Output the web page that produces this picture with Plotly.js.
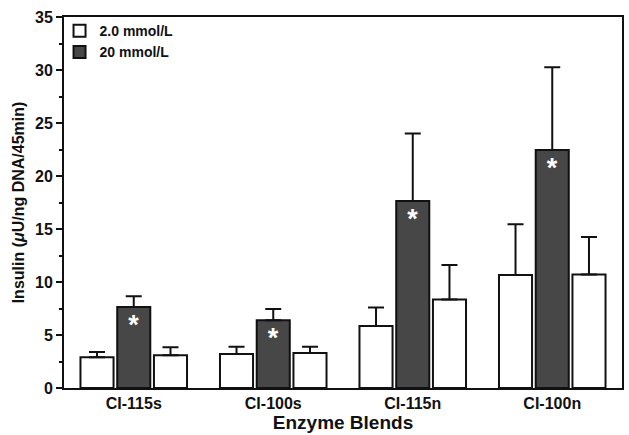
<!DOCTYPE html>
<html><head><meta charset="utf-8">
<script src="https://cdn.plot.ly/plotly-3.0.1.min.js"></script>
<style>html,body{margin:0;padding:0;background:#fff}#chart{position:relative;width:629px;height:435px}#frame{position:absolute;box-sizing:border-box;border:2px solid #111;pointer-events:none}</style>
</head><body><div id="chart"></div>
<script>
const categories = ["CI-115s", "CI-100s", "CI-115n", "CI-100n"];
const lowA = [2.9, 3.2, 5.85, 10.65];
const lowAErr = [0.5, 0.7, 1.75, 4.8];
const high = [7.65, 6.4, 17.65, 22.45];
const highErr = [1.0, 1.05, 6.35, 7.8];
const lowB = [3.1, 3.3, 8.35, 10.7];
const lowBErr = [0.75, 0.6, 3.25, 3.55];
const seriesNames = ["2.0 mmol/L", "20 mmol/L"];
const marks = ["*", "*", "*", "*"];
const majorTicks = [0, 5, 10, 15, 20, 25, 30, 35];

const FONT = "Liberation Sans, Arial, Helvetica, sans-serif";
const zeros = categories.map(() => 0);
function errY(arr){ return {type:'data', symmetric:false, array:arr, arrayminus:zeros, color:'#111', thickness:2, width:8}; }

const traces = [
  {type:'bar', x:categories, y:lowA, name:seriesNames[0], marker:{color:'#ffffff', line:{color:'#111', width:2}}, error_y:errY(lowAErr), legendrank:1},
  {type:'bar', x:categories, y:high, name:seriesNames[1], marker:{color:'#474747', line:{color:'#111', width:2}}, error_y:errY(highErr),
   text:marks, textposition:'inside', insidetextanchor:'end', textfont:{color:'#ffffff', size:27, family:FONT, weight:'bold'}, constraintext:'none', legendrank:2},
  {type:'bar', x:categories, y:lowB, name:seriesNames[0], showlegend:false, marker:{color:'#ffffff', line:{color:'#111', width:2}}, error_y:errY(lowBErr)}
];

const layout = {
  width:629, height:435,
  margin:{l:64, r:7, t:17, b:47},
  paper_bgcolor:'#fff', plot_bgcolor:'#fff',
  font:{family:FONT, color:'#111'},
  barmode:'group', bargap:0.21, bargroupgap:0.1,
  showlegend:true,
  legend:{x:-0.008, y:1.005, xanchor:'left', yanchor:'top', bgcolor:'rgba(0,0,0,0)', font:{size:14, family:FONT, weight:'bold'}, itemwidth:30, tracegroupgap:0, traceorder:'normal'},
  xaxis:{type:'category', showline:true, linecolor:'#111', linewidth:2, mirror:true, ticks:'', showgrid:false, zeroline:false,
         tickfont:{size:16, family:FONT, weight:'bold'},
         title:{text:'Enzyme Blends', font:{size:19, family:FONT, weight:'bold'}, standoff:2}},
  yaxis:{range:[0,35], tickvals:majorTicks, showline:true, linecolor:'#111', linewidth:2, mirror:true,
         ticks:'outside', ticklen:6, tickwidth:2, tickcolor:'#111', showgrid:false, zeroline:false,
         minor:{dtick:2.5, ticks:'outside', ticklen:3, tickwidth:1.5, tickcolor:'#111'},
         tickfont:{size:16, family:FONT, weight:'bold'},
         title:{text:'Insulin (<i>\u03bc</i>U/ng DNA/45min)', font:{size:16, family:FONT, weight:'bold'}, standoff:6}}
};
Plotly.newPlot('chart', traces, layout, {displayModeBar:false}).then(gd => {
  const s = gd._fullLayout._size;
  const f = document.createElement('div');
  f.id = 'frame';
  f.style.left = (s.l - 2) + 'px';
  f.style.top = (s.t - 2) + 'px';
  f.style.width = (s.w + 4) + 'px';
  f.style.height = (s.h + 4) + 'px';
  gd.appendChild(f);
});
</script>
</body></html>
